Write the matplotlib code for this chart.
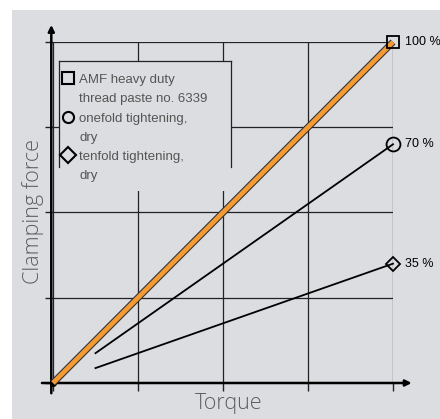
import matplotlib
matplotlib.use("Agg")
import matplotlib.pyplot as plt
import matplotlib.patheffects as pe
from matplotlib.patches import Rectangle
from matplotlib.lines import Line2D

# ---- data (grid units) ----
torque_paste = [0, 4]
force_paste = [0, 4]
torque_once = [0.5, 4]
force_once = [0.35, 2.8]
torque_ten = [0.5, 4]
force_ten = [0.175, 1.4]
end_labels = ["100 %", "70 %", "35 %"]
legend_labels = ["AMF heavy duty\nthread paste no. 6339",
                 "onefold tightening,\ndry",
                 "tenfold tightening,\ndry"]
legend_markers = ["s", "o", "D"]
grid_ticks = [0, 1, 2, 3, 4]

W, H = 440, 419
BG = "#dcdde0"
fig = plt.figure(figsize=(W / 100, H / 100), dpi=100)
fig.patch.set_facecolor("white")

def fx(px):
    return px / W

def fy(py):
    return 1 - py / H

# gray background panel
fig.patches.append(Rectangle((fx(12), 0), 1 - fx(12), fy(10), transform=fig.transFigure,
                             facecolor=BG, edgecolor="none", zorder=-5))

ax = fig.add_axes([fx(53), fy(383), fx(393) - fx(53), fy(42) - fy(383)])
ax.set_zorder(1)
ax.set_facecolor("none")
ax.set_xlim(0, 4)
ax.set_ylim(0, 4)
for s in ax.spines.values():
    s.set_visible(False)
ax.set_xticks(grid_ticks)
ax.set_yticks(grid_ticks)
ax.set_xticklabels([])
ax.set_yticklabels([])
ax.tick_params(length=6, width=1.0, color="#222222", direction="out")
ax.grid(True, color="#222222", linewidth=0.9)
ax.set_axisbelow(True)

# axes with arrows
ax.annotate("", xy=(-0.02, 4.2), xytext=(-0.02, -0.12), xycoords="data",
            arrowprops=dict(arrowstyle="-|>", color="black", lw=1.8, mutation_scale=9,
                            shrinkA=0, shrinkB=0), annotation_clip=False)
ax.annotate("", xy=(4.22, 0.0), xytext=(-0.13, 0.0), xycoords="data",
            arrowprops=dict(arrowstyle="-|>", color="black", lw=1.8, mutation_scale=9,
                            shrinkA=0, shrinkB=0), annotation_clip=False)
ax.plot([0], [0], marker="o", ms=4, color="black", clip_on=False, zorder=5)

# legend box (grey background, partial frame)
lx0, lx1, ly0, ly1, lyb = 59, 231, 61, 191, 167
fig.patches.append(Rectangle((fx(lx0), fy(ly1)), fx(lx1) - fx(lx0), fy(ly0) - fy(ly1),
                             transform=fig.transFigure, facecolor=BG, edgecolor="none",
                             zorder=2))
for xs, ys in [((lx0, lx1), (ly0, ly0)), ((lx0, lx0), (ly0, lyb)), ((lx1, lx1), (ly0, lyb))]:
    fig.add_artist(Line2D([fx(xs[0]), fx(xs[1])], [fy(ys[0]), fy(ys[1])],
                          transform=fig.transFigure, color="#222222", lw=0.9, zorder=3))
row_y = [78, 117, 155]
for yy, m, lab in zip(row_y, legend_markers, legend_labels):
    fig.add_artist(Line2D([fx(68)], [fy(yy)], marker=m, ms=8,
                          mfc="none", mec="black", mew=1.5, transform=fig.transFigure,
                          zorder=4))
    fig.text(fx(79), fy(yy - 4), lab, ha="left", va="top", fontsize=9.5,
             color="#555555", family="Liberation Sans", linespacing=1.8,
             zorder=4)

# data lines (overlay axes so they sit above the legend box)
ax2 = fig.add_axes(ax.get_position(), sharex=ax, sharey=ax)
ax2.set_zorder(5)
ax2.set_facecolor("none")
ax2.axis("off")
ax2.plot(torque_paste, force_paste, color="#f39a35", lw=3.4, solid_capstyle="butt",
         path_effects=[pe.Stroke(linewidth=5.0, foreground="#333333"), pe.Normal()],
         clip_on=False, zorder=4)
ax2.plot(torque_once, force_once, color="black", lw=1.3, clip_on=False, zorder=4)
ax2.plot(torque_ten, force_ten, color="black", lw=1.3, clip_on=False, zorder=4)

ends_x = [torque_paste[-1], torque_once[-1], torque_ten[-1]]
ends_y = [force_paste[-1], force_once[-1], force_ten[-1]]
sizes = [9, 10, 7]
for x, y, m, s, lab in zip(ends_x, ends_y, legend_markers, sizes, end_labels):
    ax2.plot([x], [y], marker=m, ms=s, mfc="none", mec="black", mew=1.3,
             clip_on=False, zorder=6)
    ax2.annotate(lab, xy=(x, y), xytext=(8.5, 0), textcoords="offset points",
                 ha="left", va="center", fontsize=9, color="black",
                 family="Liberation Sans", annotation_clip=False)

# axis labels
fig.text(fx(33), fy(212), "Clamping force", rotation=90, ha="center", va="center",
         fontsize=15.5, color="#5e5e5e", family="Open Sans", fontweight="light")
fig.text(fx(229), fy(403), "Torque", ha="center", va="center",
         fontsize=15.5, color="#5e5e5e", family="Open Sans", fontweight="light")

fig.savefig("out.png", dpi=100, facecolor=fig.get_facecolor())
